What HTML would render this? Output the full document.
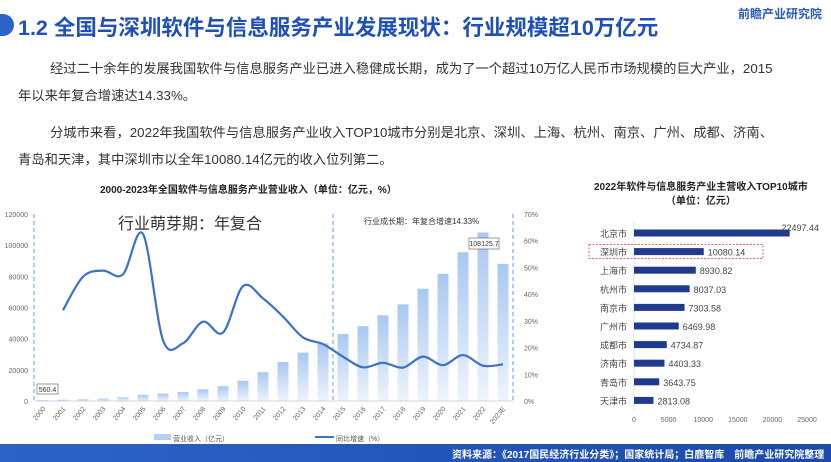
<!DOCTYPE html><html><head><meta charset="utf-8"><style>
body{margin:0;width:831px;height:462px;overflow:hidden;background:#fff;font-family:"Liberation Sans","Noto Sans CJK SC",sans-serif;position:relative}
.a{position:absolute;white-space:nowrap}
</style></head><body>
<div class="a" style="left:0;top:14px;width:14px;height:22px;border-radius:0 11px 11px 0;background:#2f62c9"></div>
<div class="a" style="left:18px;top:11px;font-size:21.5px;font-weight:bold;color:#1f4fb8">1.2 全国与深圳软件与信息服务产业发展现状：行业规模超10万亿元</div>
<div class="a" style="left:738px;top:5px;font-size:12px;color:#2a5bb5;font-weight:bold">前瞻产业研究院</div>
<div class="a" style="left:50px;top:58px;font-size:13.3px;color:#333">经过二十余年的发展我国软件与信息服务产业已进入稳健成长期，成为了一个超过10万亿人民币市场规模的巨大产业，2015</div>
<div class="a" style="left:18px;top:85px;font-size:13.3px;color:#333">年以来年复合增速达14.33%。</div>
<div class="a" style="left:50px;top:122px;font-size:13.3px;color:#333">分城市来看，2022年我国软件与信息服务产业收入TOP10城市分别是北京、深圳、上海、杭州、南京、广州、成都、济南、</div>
<div class="a" style="left:18px;top:149px;font-size:13.3px;color:#333">青岛和天津，其中深圳市以全年10080.14亿元的收入位列第二。</div>
<div class="a" style="left:100px;top:181px;font-size:10px;font-weight:bold;color:#222">2000-2023年全国软件与信息服务产业营业收入（单位：亿元，%）</div>
<div class="a" style="left:594px;top:181px;font-size:10px;font-weight:bold;color:#222;text-align:center;line-height:14px">2022年软件与信息服务产业主营收入TOP10城市<br>（单位：亿元）</div>
<svg id="s" width="831" height="462" style="position:absolute;left:0;top:0"></svg>
<div class="a" style="left:0;top:444px;width:831px;height:18px;background:linear-gradient(90deg,#2d63c8,#1b4aa8)"></div>
<div class="a" style="left:452px;top:446px;font-size:10px;color:#fff;font-weight:bold">资料来源：《2017国民经济行业分类》；国家统计局；白鹿智库　前瞻产业研究院整理</div>
<script>
var s='',NS=document.getElementById('s');
function t(x,y,str,sz,col,anc,ex){s+='<text x="'+x+'" y="'+y+'" font-size="'+sz+'" fill="'+col+'" text-anchor="'+(anc||'start')+'" '+(ex||'')+'>'+str+'</text>';}
s+='<defs><linearGradient id="g" x1="0" y1="0" x2="0" y2="1"><stop offset="0" stop-color="#a8c8f2"/><stop offset="1" stop-color="#eef4fc"/></linearGradient></defs>';
var Y0=401,H=187;
for(var i=0;i<=6;i++){t(28,Y0-i*H/6+3,i*20000,7,'#666','end');}
for(var i=0;i<=7;i++)t(524,Y0-i*H/7+3,i*10+'%',7,'#666');
var rev=[560,800,1100,1600,2400,3900,4800,5800,7500,9500,13000,18500,25000,31000,37000,43000,48000,55000,62000,72000,81600,95500,108126,88000];
var pct=[null,34,46.5,48.8,47.4,62.5,22.8,21.6,29.7,25.6,43,38.4,31.6,23.8,21.3,16.6,12.6,14.3,12.5,16.6,13.4,17.2,13.2,13.7];
for(var i=0;i<24;i++){var x=43+i*20,h=rev[i]/120000*H;s+='<rect x="'+(x-5.5)+'" y="'+(Y0-h)+'" width="11" height="'+h+'" fill="url(#g)"/>';
var lb=i==23?'2023E':(2000+i);t(x+3,Y0+8,lb,7,'#666','end','transform="rotate(-50 '+(x+3)+' '+(Y0+8)+')"');}
s+='<line x1="34" y1="214" x2="34" y2="401" stroke="#6a9ee0" stroke-dasharray="4,3"/>';
s+='<line x1="333" y1="214" x2="333" y2="401" stroke="#6a9ee0" stroke-dasharray="4,3"/>';
s+='<line x1="513" y1="214" x2="513" y2="401" stroke="#6a9ee0" stroke-dasharray="4,3"/>';
s+='<line x1="34" y1="401" x2="513" y2="401" stroke="#aac" stroke-width="0.6"/>';
var P=[];for(var i=1;i<24;i++)P.push([43+i*20,Y0-pct[i]/70*H]);
var d='M'+P[0][0]+','+P[0][1];
for(var i=0;i<P.length-1;i++){var p0=P[i-1]||P[i],p1=P[i],p2=P[i+1],p3=P[i+2]||p2;
d+=' C'+(p1[0]+(p2[0]-p0[0])/6)+','+(p1[1]+(p2[1]-p0[1])/6)+' '+(p2[0]-(p3[0]-p1[0])/6)+','+(p2[1]-(p3[1]-p1[1])/6)+' '+p2[0]+','+p2[1];}
s+='<path d="'+d+'" fill="none" stroke="#3a72c8" stroke-width="2.2"/>';
t(118,229,'行业萌芽期：年复合',16,'#333');
t(364,224,'行业成长期：年复合增速14.33%',8,'#333');
s+='<rect x="469" y="238" width="30" height="11" fill="#fff" stroke="#555" stroke-width="0.6"/>';t(484,246,'108125.7',7,'#333','middle');
s+='<rect x="37" y="384" width="21" height="10" fill="#fff" stroke="#555" stroke-width="0.6"/>';t(47.5,392,'560.4',7,'#333','middle');
s+='<rect x="154" y="434" width="17" height="6" fill="#b3cff2"/>';t(173,441,'营业收入（亿元）',7,'#555');
s+='<line x1="315" y1="437" x2="334" y2="437" stroke="#3a72c8" stroke-width="2"/>';t(336,441,'同比增速（%）',7,'#555');
var cities=['北京市','深圳市','上海市','杭州市','南京市','广州市','成都市','济南市','青岛市','天津市'];
var vals=['22497.44','10080.14','8930.82','8037.03','7303.58','6469.98','4734.87','4403.33','3643.75','2813.08'];
s+='<line x1="634" y1="222" x2="634" y2="410" stroke="#ccc" stroke-width="0.6"/>';
for(var i=0;i<10;i++){var y=233+i*18.6,w=parseFloat(vals[i])/25000*173;
s+='<rect x="634" y="'+(y-3.5)+'" width="'+w+'" height="7" fill="#1f3a8f"/>';
t(627,y+4,cities[i],9,'#444','end');
if(i==0)t(819,y-2,vals[i],9,'#444','end');else t(634+w+4,y+4,vals[i],9,'#444');}
s+='<rect x="589" y="244.5" width="174" height="14" fill="none" stroke="#d33" stroke-width="0.8" stroke-dasharray="2,1.5"/>';
for(var i=0;i<=5;i++)t(634+i*34.6,422,i*5000,7,'#666','middle');
NS.innerHTML=s;
</script>
</body></html>
